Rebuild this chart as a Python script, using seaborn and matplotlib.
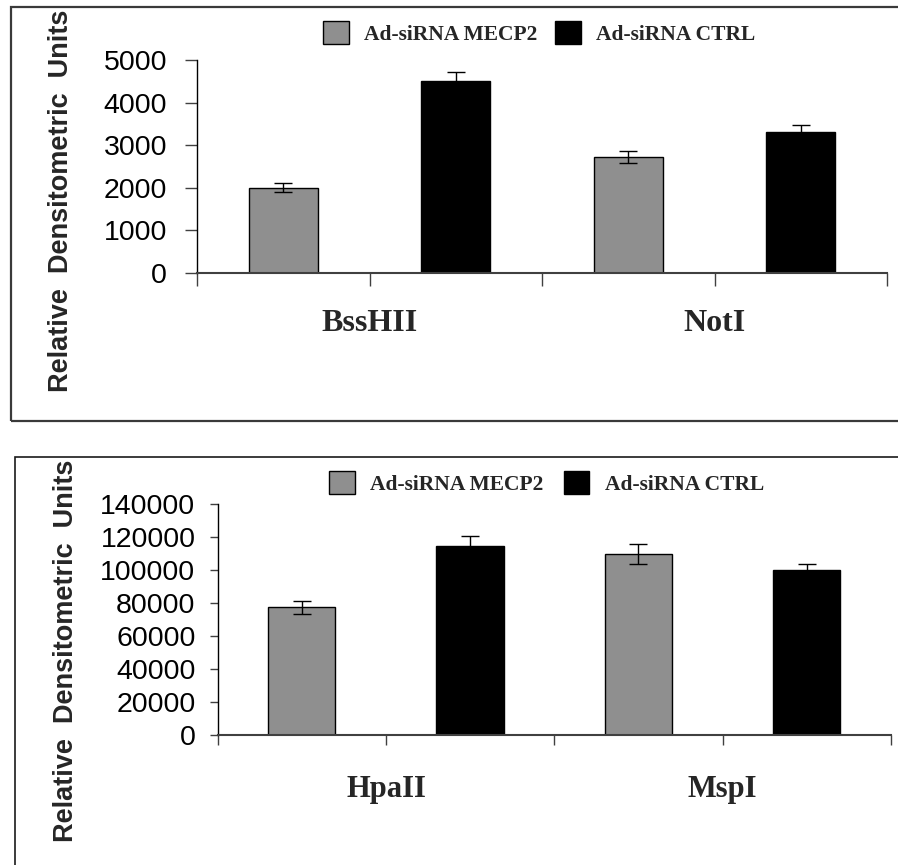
import numpy as np
import pandas as pd
import matplotlib
matplotlib.use("Agg")
import matplotlib.pyplot as plt
from matplotlib.patches import Rectangle
from matplotlib.ticker import FixedLocator, StrMethodFormatter
import seaborn as sns

# ---- data ----
conditions = ["Ad-siRNA MECP2", "Ad-siRNA CTRL"]

enzymes_top = ["BssHII", "NotI"]
mecp2_top = [2000, 2720]
mecp2_top_err = [110, 140]
ctrl_top = [4500, 3300]
ctrl_top_err = [220, 170]

enzymes_bottom = ["HpaII", "MspI"]
mecp2_bottom = [77500, 110000]
mecp2_bottom_err = [3700, 5900]
ctrl_bottom = [114500, 100000]
ctrl_bottom_err = [6000, 4000]

top_ticks = [0, 1000, 2000, 3000, 4000, 5000]
bottom_ticks = [0, 20000, 40000, 60000, 80000, 100000, 120000, 140000]

GRAY = "#8f8f8f"
BLACK = "#000000"

sns.set_style("ticks")
plt.rcParams["font.family"] = ["Liberation Sans", "DejaVu Sans"]

W, H = 898, 865
fig = plt.figure(figsize=(W / 100, H / 100), dpi=100)


def px_rect(x0, y0, x1, y1):
    """Figure-fraction rectangle from pixel edges (origin top-left)."""
    return [x0 / W, 1 - y1 / H, (x1 - x0) / W, (y1 - y0) / H]


def make_frame(x0, y0, x1, y1, color, lw):
    fig.patches.append(Rectangle((x0 / W, 1 - y1 / H), (x1 - x0) / W, (y1 - y0) / H,
                                 transform=fig.transFigure, fill=False,
                                 edgecolor=color, linewidth=lw, zorder=0))


def draw_panel(rect, enzymes, m_vals, m_err, c_vals, c_err, yticks,
               ytick_len, ytick_pad, cat_size, cat_pad, xtick_len,
               label_xy, legend_anchor, colspacing):
    ax = fig.add_axes(rect)
    df = pd.DataFrame({
        "enzyme": enzymes * 2,
        "condition": [conditions[0]] * len(enzymes) + [conditions[1]] * len(enzymes),
        "value": list(m_vals) + list(c_vals),
    })
    sns.barplot(data=df, x="enzyme", y="value", hue="condition",
                hue_order=conditions, palette=[GRAY, BLACK],
                width=1.0, gap=0.6, errorbar=None,
                edgecolor="black", linewidth=1.0, ax=ax)

    errs = [m_err, c_err]
    vals = [m_vals, c_vals]
    for cont, v, e in zip(ax.containers, vals, errs):
        xs = [b.get_x() + b.get_width() / 2 for b in cont]
        ax.errorbar(xs, v, yerr=e, fmt="none", ecolor="black",
                    elinewidth=1.0, capsize=6.5, capthick=1.0, zorder=5)

    handles, labels = ax.get_legend_handles_labels()
    if ax.get_legend() is not None:
        ax.get_legend().remove()
    fig.legend(handles, labels, loc="upper left",
               bbox_to_anchor=(legend_anchor[0] / W, 1 - legend_anchor[1] / H),
               bbox_transform=fig.transFigure, ncol=2, frameon=False,
               borderpad=0, borderaxespad=0, handlelength=1.2,
               handleheight=1.25, handletextpad=0.7, columnspacing=colspacing,
               prop={"family": "Liberation Serif", "weight": "bold", "size": 15.5})

    ax.set_xlim(-0.5, 1.5)
    ax.set_ylim(yticks[0], yticks[-1])
    ax.yaxis.set_major_locator(FixedLocator(yticks))
    ax.yaxis.set_major_formatter(StrMethodFormatter("{x:.0f}"))

    ax.set_xticks([-0.5, 0, 0.5, 1, 1.5])
    ax.set_xticklabels(["", enzymes[0], "", enzymes[1], ""],
                       family="Liberation Serif", weight="bold", size=cat_size)
    ax.tick_params(axis="x", direction="out", length=xtick_len, width=1.0,
                   color="#404040", pad=cat_pad)
    ax.tick_params(axis="y", direction="out", length=ytick_len, width=1.0,
                   color="#404040", pad=ytick_pad, labelsize=20.5, labelcolor="black")

    sns.despine(ax=ax, top=True, right=True)
    ax.spines["left"].set_color("black")
    ax.spines["left"].set_linewidth(1.0)
    ax.spines["bottom"].set_color("#404040")
    ax.spines["bottom"].set_linewidth(1.5)

    ax.set_xlabel("")
    ax.set_ylabel("Relative  Densitometric  Units", fontsize=19.5,
                  fontweight="bold", va="center")
    ax.yaxis.set_label_coords(*label_xy)
    return ax


# upper panel
make_frame(10.5, 7, 905, 420.5, "#3a3a3a", 1.6)
draw_panel(px_rect(197, 60, 887, 273), enzymes_top, mecp2_top, mecp2_top_err,
           ctrl_top, ctrl_top_err, top_ticks,
           ytick_len=9, ytick_pad=12.5, cat_size=23, cat_pad=17, xtick_len=9,
           label_xy=(-0.1964, 0.338), legend_anchor=(323, 21), colspacing=0.85)

# lower panel
make_frame(15.5, 456.5, 905, 880, "#1a1a1a", 1.2)
draw_panel(px_rect(217.6, 504.3, 891, 735.3), enzymes_bottom, mecp2_bottom,
           mecp2_bottom_err, ctrl_bottom, ctrl_bottom_err, bottom_ticks,
           ytick_len=6, ytick_pad=10, cat_size=22, cat_pad=21, xtick_len=7.5,
           label_xy=(-0.2251, 0.367), legend_anchor=(329, 471), colspacing=0.95)

fig.savefig("out.png", dpi=100, facecolor="white")
